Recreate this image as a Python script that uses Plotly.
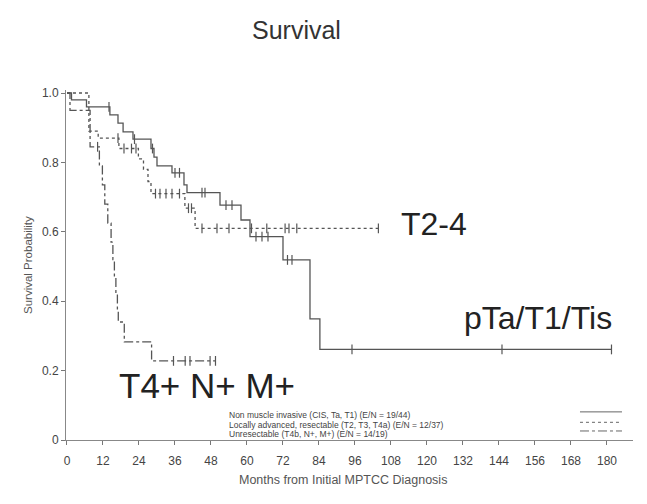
import plotly.graph_objects as go

# ---- data (months, survival probability) ----
nmi_t = [0, 1.5, 6.5, 14.3, 17, 18.7, 22, 28, 29, 30, 35, 39, 40, 51, 58, 61, 72, 81, 84.3]
nmi_s = [1.0, 0.98, 0.96, 0.937, 0.913, 0.888, 0.867, 0.84, 0.815, 0.79, 0.77, 0.735, 0.713, 0.677, 0.634, 0.586, 0.519, 0.349, 0.261]
nmi_cens = [14, 22.5, 28.5, 36, 37.5, 45, 46, 53, 55, 63, 65, 67, 73.5, 75, 95, 145, 181.5]

loc_t = [0, 7.3, 10.4, 17.3, 23.8, 25.5, 27, 28, 39.3, 42.7]
loc_s = [1.0, 0.89, 0.87, 0.84, 0.81, 0.78, 0.745, 0.71, 0.668, 0.61]
loc_cens = [17, 19, 21.5, 23, 29.5, 31, 33, 35, 37.5, 40.5, 41.5, 45, 50, 54, 61.5, 66.6, 72.7, 74, 76.6, 103.8]

unr_t = [0, 1.0, 7.7, 10.8, 11.8, 12.6, 13.6, 14.7, 15.3, 15.8, 16.3, 16.8, 17.1, 19.1, 28.2]
unr_s = [1.0, 0.95, 0.845, 0.79, 0.735, 0.68, 0.625, 0.57, 0.52, 0.47, 0.42, 0.37, 0.34, 0.283, 0.228]
unr_cens = [10.2, 35.5, 39.4, 41, 47.7, 49.5]

legend_names = [
    "Non muscle invasive (CIS, Ta, T1) (E/N = 19/44)",
    "Locally advanced, resectable (T2, T3, T4a) (E/N = 12/37)",
    "Unresectable (T4b, N+, M+) (E/N = 14/19)",
]
x_ticks = list(range(0, 181, 12))
y_ticks = [0, 0.2, 0.4, 0.6, 0.8, 1.0]
y_tick_text = ["0", "0.2", "0.4", "0.6", "0.8", "1.0"]

FONT = "Arial, Liberation Sans, sans-serif"
LINE_COL = "#555555"


def step_value(ts, ss, t):
    v = ss[0]
    for ti, si in zip(ts, ss):
        if ti <= t:
            v = si
    return v


fig = go.Figure()
groups = [
    (nmi_t, nmi_s, nmi_cens, "solid"),
    (loc_t, loc_s, loc_cens, "dot"),
    (unr_t, unr_s, unr_cens, "dashdot"),
]
for ts, ss, cens, dash in groups:
    end = max(cens)
    xs = list(ts) + [end]
    ys = list(ss) + [ss[-1]]
    fig.add_trace(go.Scatter(x=xs, y=ys, mode="lines", line_shape="hv",
                             line=dict(color=LINE_COL, width=1.3, dash=dash),
                             showlegend=False, hoverinfo="skip"))
    fig.add_trace(go.Scatter(x=cens, y=[step_value(ts, ss, c) for c in cens], mode="markers",
                             marker=dict(symbol="line-ns-open", size=7, color=LINE_COL,
                                         line=dict(color=LINE_COL, width=1.2)),
                             showlegend=False, hoverinfo="skip"))

# legend line samples (right side)
leg_y = [0.081, 0.051, 0.026]
for yv, dash in zip(leg_y, ["solid", "dot", "dashdot"]):
    fig.add_trace(go.Scatter(x=[171, 185], y=[yv, yv], mode="lines",
                             line=dict(color="#666666", width=1, dash=dash),
                             showlegend=False, hoverinfo="skip"))


def px2paper_x(px):
    return (px - 66) / 567


def px2paper_y(py):
    return (440 - py) / 350


ann = []
ann.append(dict(text="Survival", x=px2paper_x(296), y=px2paper_y(30), xanchor="center", yanchor="middle",
                font=dict(size=25, color="#333333", family=FONT)))
ann.append(dict(text="T2-4", x=px2paper_x(399), y=px2paper_y(224), xanchor="left", yanchor="middle",
                font=dict(size=32, color="#222222", family=FONT)))
ann.append(dict(text="pTa/T1/Tis", x=px2paper_x(462), y=px2paper_y(318), xanchor="left", yanchor="middle",
                font=dict(size=32, color="#222222", family=FONT)))
ann.append(dict(text="T4+ N+ M+", x=px2paper_x(117), y=px2paper_y(385), xanchor="left", yanchor="middle",
                font=dict(size=35, color="#222222", family=FONT)))
for name, py in zip(legend_names, [414.5, 425, 433.5]):
    ann.append(dict(text=name, x=px2paper_x(227), y=px2paper_y(py), xanchor="left", yanchor="middle",
                    font=dict(size=8.5, color="#444444", family=FONT)))
ann.append(dict(text="Survival Probability", x=px2paper_x(28), y=0.5, xanchor="center", yanchor="middle",
                textangle=-90, font=dict(size=11.5, color="#555555", family=FONT)))
ann.append(dict(text="Months from Initial MPTCC Diagnosis", x=px2paper_x(343), y=px2paper_y(480),
                xanchor="center", yanchor="middle", font=dict(size=12.5, color="#555555", family=FONT)))
for a in ann:
    a.update(xref="paper", yref="paper", showarrow=False)

fig.update_layout(
    width=647, height=504,
    margin=dict(l=66, r=14, t=90, b=64),
    paper_bgcolor="white", plot_bgcolor="white",
    annotations=ann,
    xaxis=dict(range=[-0.33, 188.67], tickvals=x_ticks, ticks="outside", ticklen=4, tickcolor="#777777",
               showline=True, linecolor="#888888", linewidth=1, showgrid=False, zeroline=False,
               tickfont=dict(size=12, color="#444444", family=FONT), ticklabelstandoff=6),
    yaxis=dict(range=[0, 350 / 347], tickvals=y_ticks, ticktext=y_tick_text, ticks="outside", ticklen=4,
               tickcolor="#777777", showline=True, linecolor="#888888", linewidth=1, showgrid=False,
               zeroline=False, tickfont=dict(size=12, color="#444444", family=FONT)),
)

fig.write_html("out.html")
